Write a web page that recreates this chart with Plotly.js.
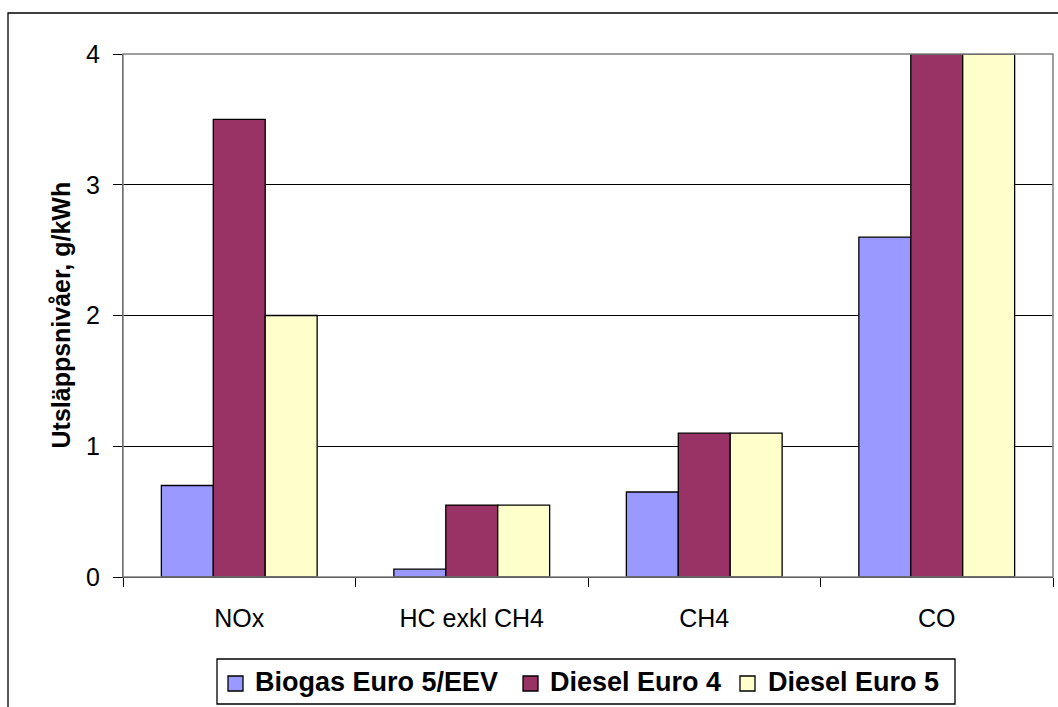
<!DOCTYPE html>
<html>
<head>
<meta charset="utf-8">
<script src="https://cdn.plot.ly/plotly-3.0.1.min.js"></script>
<style>html,body{margin:0;padding:0;background:#fff;}</style>
</head>
<body>
<div id="chart" style="width:1058px;height:707px;"></div>
<script>
const categories = ["NOx", "HC exkl CH4", "CH4", "CO"];
const seriesNames = ["Biogas Euro 5/EEV", "Diesel Euro 4", "Diesel Euro 5"];
const biogasEuro5 = [0.7, 0.06, 0.65, 2.6];
const dieselEuro4 = [3.5, 0.55, 1.1, 4.0];
const dieselEuro5 = [2.0, 0.55, 1.1, 4.0];
const yTicks = [0, 1, 2, 3, 4];
const yTitle = "Utsläppsnivåer, g/kWh";
const colors = ["#9999FF", "#993366", "#FFFFCC"];

const FONT = "Arial, 'Liberation Sans', sans-serif";
const M = {l: 123, r: 5, t: 54, b: 130};
const W = 1058, H = 707;
const PW = W - M.l - M.r, PH = H - M.t - M.b;
const px = v => (v - M.l) / PW;
const py = v => (H - M.b - v) / PH;

const values = [biogasEuro5, dieselEuro4, dieselEuro5];
const traces = values.map((v, i) => ({
  type: "bar",
  name: seriesNames[i],
  x: categories,
  y: v,
  marker: {color: colors[i], line: {color: "#000", width: 1.3}},
  showlegend: false
}));

// manual legend (box, swatches, labels)
const legendSwatchX = [228, 523, 740];
const legendTextX = [253, 548, 766];
const shapes = [
  {type: "rect", xref: "paper", yref: "paper", x0: 0, x1: 1, y0: 0, y1: 1,
   line: {color: "#808080", width: 1.5}, fillcolor: "rgba(0,0,0,0)", layer: "above"},
  {type: "rect", xref: "paper", yref: "paper", x0: px(8), x1: px(1064), y0: py(712), y1: py(13),
   line: {color: "#000", width: 1.3}, fillcolor: "rgba(0,0,0,0)", layer: "below"},
  {type: "rect", xref: "paper", yref: "paper", x0: px(217), x1: px(955), y0: py(704), y1: py(659),
   line: {color: "#000", width: 1.3}, fillcolor: "#fff", layer: "above"}
];
const annotations = [
  {xref: "paper", yref: "paper", x: px(60), y: 0.5, text: yTitle, textangle: -90,
   showarrow: false, xanchor: "center", yanchor: "middle",
   font: {family: FONT, size: 25, color: "#000", weight: "bold"}}
];
seriesNames.forEach((name, i) => {
  shapes.push({type: "rect", xref: "paper", yref: "paper",
    x0: px(legendSwatchX[i]), x1: px(legendSwatchX[i] + 15), y0: py(691), y1: py(676),
    line: {color: "#000", width: 1.3}, fillcolor: colors[i], layer: "above"});
  annotations.push({xref: "paper", yref: "paper", x: px(legendTextX[i]), y: py(682),
    text: name, showarrow: false, xanchor: "left", yanchor: "middle",
    font: {family: FONT, size: 27, color: "#000", weight: "bold"}});
});

const layout = {
  width: W, height: H,
  margin: M,
  paper_bgcolor: "#fff", plot_bgcolor: "#fff",
  barmode: "group",
  bargap: 0.33, bargroupgap: 0,
  showlegend: false,
  xaxis: {
    type: "category",
    tickson: "boundaries",
    ticks: "outside", ticklen: 9, tickcolor: "#000", tickwidth: 1,
    showline: true, linecolor: "#000", linewidth: 1,
    showgrid: false,
    tickfont: {family: FONT, size: 25, color: "#000"},
    ticklabelstandoff: 19,
    fixedrange: true
  },
  yaxis: {
    range: [0, 4],
    tickvals: yTicks,
    ticktext: yTicks.map(String),
    ticks: "outside", ticklen: 9, tickcolor: "#000", tickwidth: 1,
    showline: true, linecolor: "#333", linewidth: 1,
    showgrid: true, gridcolor: "#000", gridwidth: 1,
    zeroline: false,
    tickfont: {family: FONT, size: 25, color: "#000"},
    ticklabelstandoff: 8,
    fixedrange: true
  },
  shapes: shapes,
  annotations: annotations
};

Plotly.newPlot("chart", traces, layout, {displayModeBar: false, staticPlot: true});
</script>
</body>
</html>
